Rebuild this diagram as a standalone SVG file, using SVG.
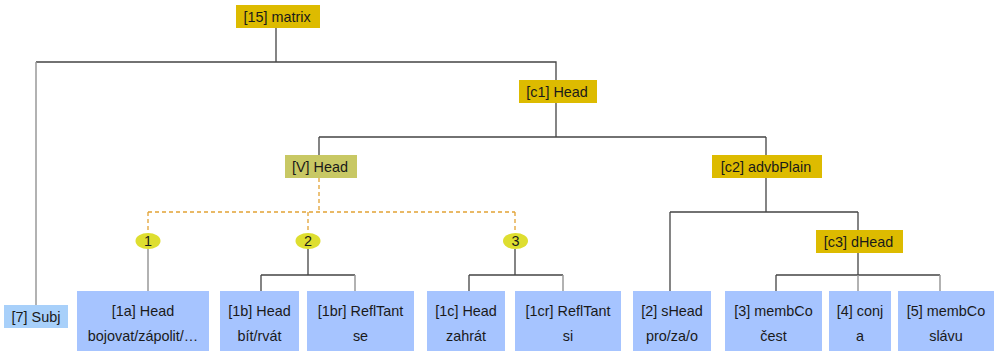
<svg xmlns="http://www.w3.org/2000/svg" width="994" height="351" viewBox="0 0 994 351">
  <style>
    text { font-family: "Liberation Sans", Arial, sans-serif; font-size: 14.4px; fill: #1a1a1a; text-anchor: middle; }
    .gold { fill: #ddbb00; }
    .olive { fill: #c8c864; }
    .leaf { fill: #a6c4ff; }
    .subj { fill: #a8d0fa; }
    .alt { fill: #dede30; }
    .edge { stroke: #444; stroke-width: 1.3; fill: none; }
    .edge-leaf { stroke: #999; stroke-width: 1.5; fill: none; }
    .dash { stroke: #e2a234; stroke-width: 1.3; stroke-dasharray: 4 3; fill: none; }
  </style>

  <g id="connectors">
    <!-- matrix to Subj and c1 -->
    <path class="edge" d="M276 28 V62 M36 62 H556 V80"/>
    <path class="edge-leaf" d="M36 62 V305"/>
    <!-- c1 to V and c2 -->
    <path class="edge" d="M556 103 V137 M319 137 H766 M319 137 V155 M766 137 V155"/>
    <!-- V to alternatives (dashed) -->
    <path class="dash" d="M319 178 V212 M148 212 H515 M148 212 V233 M308 212 V233 M515 212 V233"/>
    <!-- alternative 1 -->
    <path class="edge-leaf" d="M148 249 V291"/>
    <!-- alternative 2 -->
    <path class="edge" d="M308 249 V275 M261 275 H355 M261 275 V291"/>
    <path class="edge-leaf" d="M355 275 V291"/>
    <!-- alternative 3 -->
    <path class="edge" d="M515 249 V275 M469 275 H563 M469 275 V291"/>
    <path class="edge-leaf" d="M563 275 V291"/>
    <!-- c2 to sHead and c3 -->
    <path class="edge" d="M766 178 V212 M670 212 H858 M670 212 V291 M858 212 V230"/>
    <!-- c3 to members -->
    <path class="edge" d="M858 253 V275 M776 275 H940 M776 275 V291"/>
    <path class="edge-leaf" d="M858 275 V291 M940 275 V291"/>
  </g>

  <g id="n15">
    <rect class="gold" x="236" y="5" width="84" height="23"/>
    <text x="277" y="22">[15] matrix</text>
  </g>
  <g id="nc1">
    <rect class="gold" x="519" y="80" width="78" height="23"/>
    <text x="557" y="97">[c1] Head</text>
  </g>
  <g id="nV">
    <rect class="olive" x="285" y="155" width="72" height="23"/>
    <text x="320" y="172">[V] Head</text>
  </g>
  <g id="nc2">
    <rect class="gold" x="712" y="155" width="110" height="23"/>
    <text x="766" y="172">[c2] advbPlain</text>
  </g>
  <g id="nc3">
    <rect class="gold" x="816" y="230" width="87" height="23"/>
    <text x="858.5" y="247">[c3] dHead</text>
  </g>

  <g id="alt1">
    <ellipse class="alt" cx="148" cy="241" rx="12.5" ry="8"/>
    <text x="148" y="246">1</text>
  </g>
  <g id="alt2">
    <ellipse class="alt" cx="308" cy="241" rx="12.5" ry="8"/>
    <text x="308" y="246">2</text>
  </g>
  <g id="alt3">
    <ellipse class="alt" cx="515.5" cy="241" rx="12.5" ry="8"/>
    <text x="515.5" y="246">3</text>
  </g>

  <g id="n7">
    <rect class="subj" x="4" y="305" width="64" height="23"/>
    <text x="36" y="322">[7] Subj</text>
  </g>
  <g id="n1a">
    <rect class="leaf" x="77" y="291" width="132" height="60"/>
    <text x="143" y="316">[1a] Head</text>
    <text x="143" y="341">bojovat/zápolit/…</text>
  </g>
  <g id="n1b">
    <rect class="leaf" x="220" y="291" width="79" height="60"/>
    <text x="259.5" y="316">[1b] Head</text>
    <text x="259.5" y="341">bít/rvát</text>
  </g>
  <g id="n1br">
    <rect class="leaf" x="307" y="291" width="107" height="60"/>
    <text x="360.5" y="316">[1br] ReflTant</text>
    <text x="360.5" y="341">se</text>
  </g>
  <g id="n1c">
    <rect class="leaf" x="427" y="291" width="78" height="60"/>
    <text x="466" y="316">[1c] Head</text>
    <text x="466" y="341">zahrát</text>
  </g>
  <g id="n1cr">
    <rect class="leaf" x="515" y="291" width="106" height="60"/>
    <text x="568" y="316">[1cr] ReflTant</text>
    <text x="568" y="341">si</text>
  </g>
  <g id="n2">
    <rect class="leaf" x="633" y="291" width="78" height="60"/>
    <text x="672" y="316">[2] sHead</text>
    <text x="672" y="341">pro/za/o</text>
  </g>
  <g id="n3">
    <rect class="leaf" x="725" y="291" width="97" height="60"/>
    <text x="773.5" y="316">[3] membCo</text>
    <text x="773.5" y="341">čest</text>
  </g>
  <g id="n4">
    <rect class="leaf" x="829" y="291" width="62" height="60"/>
    <text x="860" y="316">[4] conj</text>
    <text x="860" y="341">a</text>
  </g>
  <g id="n5">
    <rect class="leaf" x="898" y="291" width="96" height="60"/>
    <text x="946" y="316">[5] membCo</text>
    <text x="946" y="341">slávu</text>
  </g>
</svg>
